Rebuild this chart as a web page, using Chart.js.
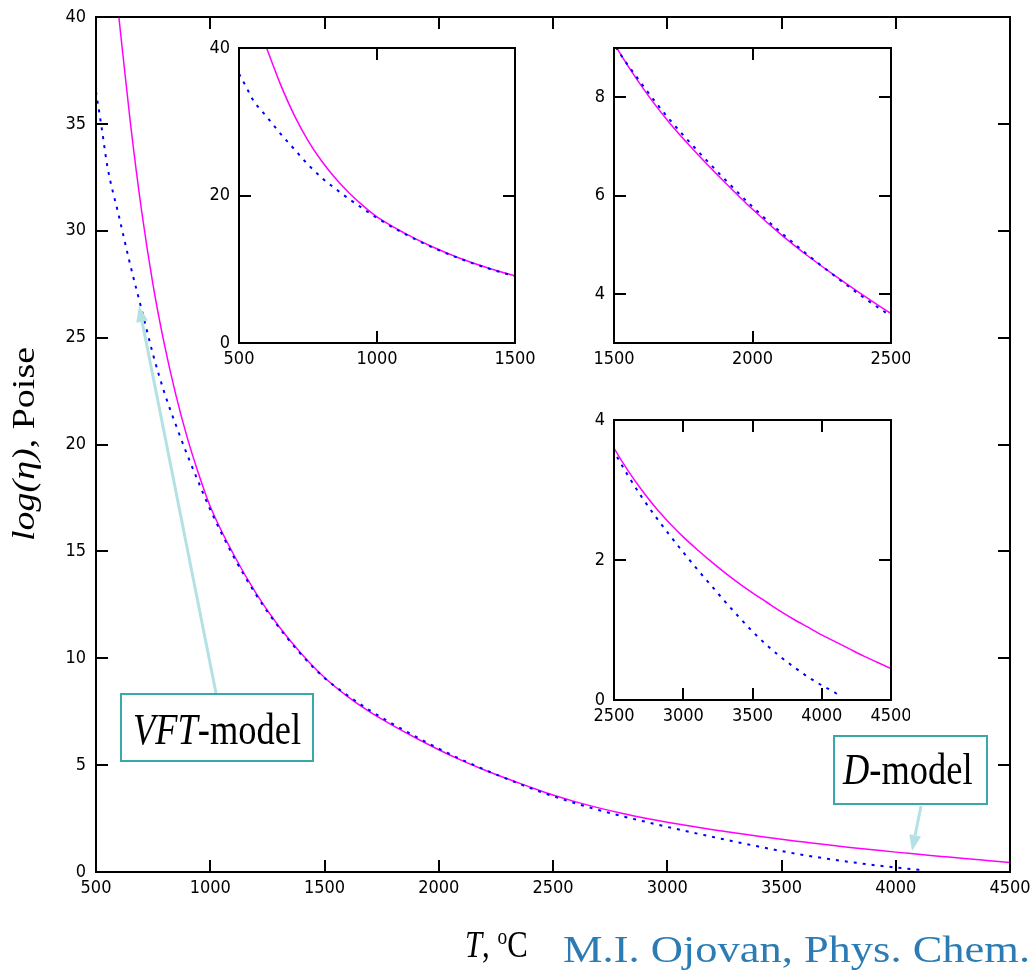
<!DOCTYPE html>
<html lang="en">
<head>
<meta charset="UTF-8">
<title>Viscosity: VFT-model vs D-model</title>
<script src="https://cdn.jsdelivr.net/npm/chart.js@4.4.1/dist/chart.umd.min.js"></script>
<style>
    body { margin: 0; background: #fff; }
    .janela { position: relative; width: 1032px; height: 971px; overflow: hidden; }
    .janela canvas { position: absolute; }
</style>
</head>
<body>
<div class="janela">
    <canvas id="grafico_principal" width="1032" height="971" style="left:0;top:0"></canvas>
    <canvas id="inset_baixa" width="345" height="350" style="left:190px;top:28px"></canvas>
    <canvas id="inset_media" width="345" height="350" style="left:565px;top:28px"></canvas>
    <canvas id="inset_alta" width="345" height="335" style="left:565px;top:400px"></canvas>
</div>

<script>
    // VFT-model: log(viscosity, Poise) vs temperature (°C)
    const vftT = [500, 525, 550, 600, 650, 700, 750, 800, 850, 900, 950, 1000,
        1100, 1200, 1300, 1400, 1500, 1600, 1700, 1800, 1900, 2000,
        2100, 2200, 2300, 2400, 2500, 2600, 2700, 2800, 2900, 3000,
        3100, 3200, 3300, 3400, 3500, 3600, 3700, 3800, 3900, 4000, 4100, 4120];
    const vftLog = [36.5, 34.8, 33.0, 30.7, 28.4, 26.3, 24.2, 22.4, 20.9, 19.5, 18.2, 16.95,
        14.8, 12.98, 11.45, 10.15, 9.08, 8.27, 7.55, 6.92, 6.33, 5.77,
        5.26, 4.79, 4.35, 3.93, 3.55, 3.21, 2.9, 2.62, 2.36, 2.11,
        1.87, 1.64, 1.41, 1.19, 0.98, 0.79, 0.62, 0.47, 0.33, 0.21, 0.1, 0.07];

    // D-model
    const dT = [600, 650, 700, 750, 800, 850, 900, 950, 1000,
        1100, 1200, 1300, 1400, 1500, 1600, 1700, 1800, 1900, 2000,
        2100, 2200, 2300, 2400, 2500, 2600, 2700, 2800, 2900, 3000,
        3100, 3200, 3300, 3400, 3500, 3600, 3700, 3800, 3900, 4000,
        4100, 4200, 4300, 4400, 4500];
    const dLog = [40, 35.1, 30.9, 27.45, 24.65, 22.3, 20.3, 18.6, 17.1,
        14.9, 13.05, 11.5, 10.2, 9.1, 8.22, 7.48, 6.85, 6.27, 5.72,
        5.22, 4.77, 4.36, 3.97, 3.6, 3.28, 3.0, 2.75, 2.53, 2.33,
        2.15, 1.98, 1.82, 1.67, 1.53, 1.4, 1.27, 1.15, 1.04, 0.93,
        0.83, 0.73, 0.63, 0.54, 0.45];

    // ticks of each panel
    const mainXTicks = [500, 1000, 1500, 2000, 2500, 3000, 3500, 4000, 4500];
    const mainYTicks = [0, 5, 10, 15, 20, 25, 30, 35, 40];
    const lowXTicks = [500, 1000, 1500];
    const lowYTicks = [0, 20, 40];
    const midXTicks = [1500, 2000, 2500];
    const midYTicks = [4, 6, 8];
    const highXTicks = [2500, 3000, 3500, 4000, 4500];
    const highYTicks = [0, 2, 4];

    const tickFont = { family: "'Liberation Sans Narrow', 'DejaVu Sans Condensed', 'Liberation Sans', sans-serif", size: 18 };
    const serif = "'Liberation Serif', 'DejaVu Serif', serif";

    function pares(xs, ys) {
        return xs.map(function (x, i) { return { x: x, y: ys[i] }; });
    }

    // frame + inward tick marks on all four sides
    const moldura = {
        id: 'moldura',
        afterDatasetsDraw(chart, args, opts) {
            const ctx = chart.ctx, a = chart.chartArea;
            const x = chart.scales.x, y = chart.scales.y;
            const L = opts.tick || 12;
            ctx.save();
            ctx.strokeStyle = '#000';
            ctx.lineWidth = opts.lw || 2;
            ctx.strokeRect(a.left, a.top, a.right - a.left, a.bottom - a.top);
            ctx.beginPath();
            x.ticks.forEach(function (t) {
                if (t.value <= x.min || t.value >= x.max) return;
                const px = Math.round(x.getPixelForValue(t.value));
                ctx.moveTo(px, a.bottom); ctx.lineTo(px, a.bottom - L);
                ctx.moveTo(px, a.top); ctx.lineTo(px, a.top + L);
            });
            y.ticks.forEach(function (t) {
                if (t.value <= y.min || t.value >= y.max) return;
                const py = Math.round(y.getPixelForValue(t.value));
                ctx.moveTo(a.left, py); ctx.lineTo(a.left + L, py);
                ctx.moveTo(a.right, py); ctx.lineTo(a.right - L, py);
            });
            ctx.stroke();
            ctx.restore();
        }
    };

    function seta(ctx, x0, y0, x1, y1) {
        const ang = Math.atan2(y1 - y0, x1 - x0);
        const len = 16, half = 6;
        const bx = x1 - len * Math.cos(ang), by = y1 - len * Math.sin(ang);
        ctx.beginPath();
        ctx.moveTo(x0, y0); ctx.lineTo(bx, by);
        ctx.stroke();
        ctx.beginPath();
        ctx.moveTo(x1, y1);
        ctx.lineTo(bx + half * Math.sin(ang), by - half * Math.cos(ang));
        ctx.lineTo(bx - half * Math.sin(ang), by + half * Math.cos(ang));
        ctx.closePath();
        ctx.fill();
    }

    // text made of [string, italic] pieces, squeezed horizontally
    function textoMisto(ctx, partes, x, y, size, sx) {
        ctx.save();
        ctx.translate(x, y);
        ctx.scale(sx, 1);
        let cx = 0;
        partes.forEach(function (p) {
            ctx.font = (p[1] ? 'italic ' : '') + size + 'px ' + serif;
            ctx.fillText(p[0], cx, 0);
            cx += ctx.measureText(p[0]).width;
        });
        ctx.restore();
    }

    // labels, boxes and arrows of the big panel
    const rotulos = {
        id: 'rotulos',
        afterDraw(chart) {
            const ctx = chart.ctx;
            ctx.save();
            ctx.textBaseline = 'alphabetic';

            // arrows
            ctx.strokeStyle = '#b4e1e3';
            ctx.fillStyle = '#b4e1e3';
            ctx.lineWidth = 3;
            seta(ctx, 216, 693, 139, 306);
            seta(ctx, 921, 806, 912, 851);

            // boxes
            ctx.fillStyle = '#fff';
            ctx.strokeStyle = '#3aa8a8';
            ctx.lineWidth = 2;
            ctx.fillRect(121, 694, 192, 67);
            ctx.strokeRect(121, 694, 192, 67);
            ctx.fillRect(834, 736, 153, 68);
            ctx.strokeRect(834, 736, 153, 68);

            ctx.fillStyle = '#000';
            textoMisto(ctx, [['VFT', true], ['-model', false]], 133, 744, 45, 0.81);
            textoMisto(ctx, [['D', true], ['-model', false]], 843, 784, 45, 0.81);

            // y axis title
            ctx.save();
            ctx.translate(34, 444);
            ctx.rotate(-Math.PI / 2);
            ctx.scale(1, 0.81);
            const partesY = [['log(η)', true], [', Poise', false]];
            let w = 0;
            partesY.forEach(function (p) {
                ctx.font = (p[1] ? 'italic ' : '') + '38px ' + serif;
                w += ctx.measureText(p[0]).width;
            });
            let cx = -w / 2;
            partesY.forEach(function (p) {
                ctx.font = (p[1] ? 'italic ' : '') + '38px ' + serif;
                ctx.fillText(p[0], cx, 0);
                cx += ctx.measureText(p[0]).width;
            });
            ctx.restore();

            // x axis title "T, ºC"
            ctx.save();
            ctx.filter = 'blur(0.4px)';
            ctx.translate(465, 957);
            ctx.scale(0.81, 1);
            ctx.font = 'italic 38px ' + serif;
            ctx.fillText('T', 0, 0);
            let px = ctx.measureText('T').width;
            ctx.font = '38px ' + serif;
            ctx.fillText(', ', px, 0);
            px += ctx.measureText(', ').width;
            ctx.font = '24px ' + serif;
            ctx.fillText('o', px, -13);
            px += ctx.measureText('o').width;
            ctx.font = '38px ' + serif;
            ctx.fillText('C', px, 0);
            ctx.restore();

            // reference line
            ctx.save();
            ctx.filter = 'blur(0.6px)';
            ctx.fillStyle = '#2b7bb4';
            ctx.font = '38px ' + serif;
            const ref = 'M.I. Ojovan, Phys. Chem.';
            const sx = 467 / ctx.measureText(ref).width;
            ctx.translate(563, 962);
            ctx.scale(sx, 1);
            ctx.fillText(ref, 0, 0);
            ctx.restore();

            ctx.restore();
        }
    };

    function eixo(min, max, lista, tamanho, padding, horizontal) {
        const cfg = {
            type: 'linear',
            min: min,
            max: max,
            grid: { display: false, drawTicks: false },
            border: { display: false },
            ticks: {
                color: '#000',
                font: tickFont,
                padding: padding,
                autoSkip: false,
                maxRotation: 0,
                callback: function (v) { return String(v); }
            },
            afterBuildTicks: function (s) { s.ticks = lista.map(function (v) { return { value: v }; }); }
        };
        // fixed axis size, no extra room for overhanging labels
        if (horizontal) {
            cfg.afterFit = function (s) { s.height = tamanho; s.paddingLeft = 0; s.paddingRight = 0; };
        } else {
            cfg.afterFit = function (s) { s.width = tamanho; s.paddingTop = 0; s.paddingBottom = 0; };
        }
        return cfg;
    }

    function plotarPainel(id, faixa, opcoes) {
        return new Chart(document.getElementById(id), {
            type: 'line',
            data: {
                datasets: [
                    {
                        label: 'VFT-model',
                        data: pares(vftT, vftLog),
                        borderColor: '#0000ff',
                        borderWidth: 2,
                        borderDash: [3, 6],
                        pointRadius: 0,
                        fill: false,
                        cubicInterpolationMode: 'monotone',
                        clip: 0
                    },
                    {
                        label: 'D-model',
                        data: pares(dT, dLog),
                        borderColor: '#ff00ff',
                        borderWidth: 1.5,
                        pointRadius: 0,
                        fill: false,
                        cubicInterpolationMode: 'monotone',
                        clip: 0
                    }
                ]
            },
            options: {
                responsive: false,
                animation: false,
                devicePixelRatio: 1,
                layout: { padding: opcoes.padding, autoPadding: false },
                plugins: {
                    legend: { display: false },
                    tooltip: { enabled: false },
                    moldura: { lw: 2, tick: 12 }
                },
                scales: {
                    x: eixo(faixa.x[0], faixa.x[1], faixa.xt, opcoes.xh, opcoes.xpad, true),
                    y: eixo(faixa.y[0], faixa.y[1], faixa.yt, opcoes.yw, opcoes.ypad, false)
                }
            },
            plugins: opcoes.extra ? [moldura, opcoes.extra] : [moldura]
        });
    }

    plotarPainel('grafico_principal',
        { x: [500, 4500], y: [0, 40], xt: mainXTicks, yt: mainYTicks },
        { padding: { left: 0, top: 17, right: 22, bottom: 69 }, xh: 30, yw: 96, xpad: 6, ypad: 10, extra: rotulos });

    plotarPainel('inset_baixa',
        { x: [500, 1500], y: [0, 40], xt: lowXTicks, yt: lowYTicks },
        { padding: { left: 0, top: 20, right: 20, bottom: 0 }, xh: 35, yw: 49, xpad: 6, ypad: 9 });

    plotarPainel('inset_media',
        { x: [1500, 2500], y: [3, 9], xt: midXTicks, yt: midYTicks },
        { padding: { left: 0, top: 20, right: 19, bottom: 0 }, xh: 35, yw: 49, xpad: 6, ypad: 9 });

    plotarPainel('inset_alta',
        { x: [2500, 4500], y: [0, 4], xt: highXTicks, yt: highYTicks },
        { padding: { left: 0, top: 20, right: 19, bottom: 0 }, xh: 35, yw: 49, xpad: 6, ypad: 9 });
</script>
</body>
</html>
